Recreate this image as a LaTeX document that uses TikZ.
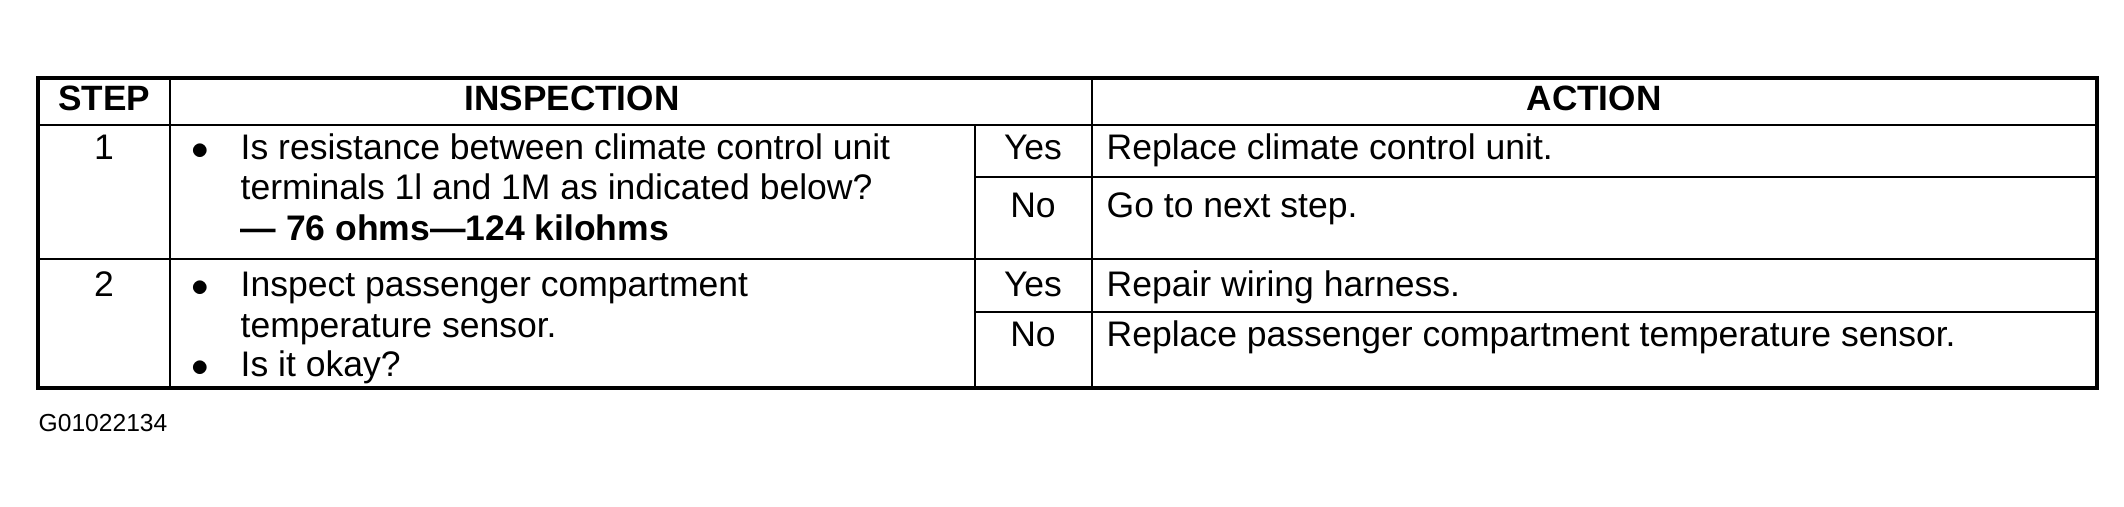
\documentclass[tikz,border=0pt]{standalone}
\usepackage{fontspec}
\setmainfont{Liberation Sans}
\begin{document}
\begin{tikzpicture}[x=0.01cm,y=-0.01cm,
  txt/.style={inner sep=0pt,anchor=base west,font=\fontsize{10.1}{12}\selectfont},
  ctr/.style={inner sep=0pt,anchor=base,font=\fontsize{10.1}{12}\selectfont},
  hdr/.style={inner sep=0pt,anchor=base,font=\fontsize{10}{12}\selectfont\bfseries},
  thin/.style={line width=0.5pt},
  thick/.style={line width=1pt}]
\useasboundingbox (0,0) rectangle (2124,507);
% grid
\draw[thin] (38,125) -- (2097,125);
\draw[thin] (38,259) -- (2097,259);
\draw[thin] (170,78) -- (170,388);
\draw[thin] (1092,78) -- (1092,388);
\draw[thin] (975,125) -- (975,388);
\draw[thin] (975,177) -- (2097,177);
\draw[thin] (975,312) -- (2097,312);
\draw[thick] (38,78) rectangle (2097,388);
% headers
\node[hdr] (hs) at (104,111) {STEP};
\node[hdr] (hi) at (572,111) {INSPECTION};
\node[hdr] (ha) at (1594,111) {ACTION};
% row 1
\node[ctr] (s1) at (104,160) {1};
\node[ctr] (b1) at (200,160) {$\bullet$};
\node[txt] (i1a) at (240,160) {Is resistance between climate control unit};
\node[txt] (i1b) at (240,200) {terminals 1l and 1M as indicated below?};
\node[txt,font=\fontsize{10.1}{12}\selectfont\bfseries] (i1c) at (240,241) {--- 76 ohms---124 kilohms};
\node[ctr] (y1) at (1033,160) {Yes};
\node[ctr] (n1) at (1033,218) {No};
\node[txt] (a1) at (1106,160) {Replace climate control unit.};
\node[txt] (a2) at (1106,218) {Go to next step.};
% row 2
\node[ctr] (s2) at (104,297) {2};
\node[ctr] (b2) at (200,297) {$\bullet$};
\node[txt] (i2a) at (240,297) {Inspect passenger compartment};
\node[txt] (i2b) at (240,338) {temperature sensor.};
\node[ctr] (b3) at (200,377) {$\bullet$};
\node[txt] (i2c) at (240,377) {Is it okay?};
\node[ctr] (y2) at (1033,297) {Yes};
\node[ctr] (n2) at (1033,347) {No};
\node[txt] (a3) at (1106,297) {Repair wiring harness.};
\node[txt] (a4) at (1106,347) {Replace passenger compartment temperature sensor.};
% label
\node[txt,font=\fontsize{7}{8}\selectfont] (lbl) at (38,432) {G01022134};
\end{tikzpicture}
\end{document}
